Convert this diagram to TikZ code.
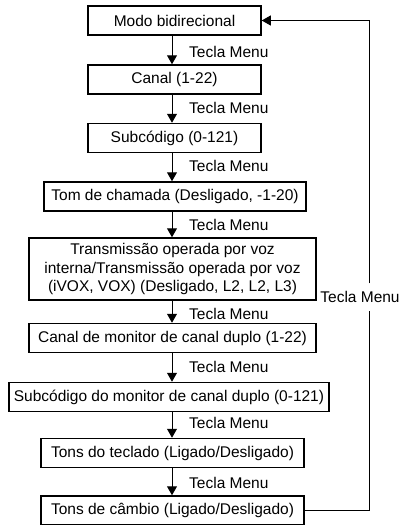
\documentclass[tikz,border=0pt]{standalone}
\usepackage{fontspec}
\setmainfont{Liberation Sans}
\usetikzlibrary{arrows.meta}

\begin{document}
\begin{tikzpicture}[x=1pt, y=-1pt,
  box/.style={rectangle, draw, line width=1.5pt, minimum height=29pt, inner sep=2pt, align=center, font=\fontsize{15.5}{18.3}\selectfont},
  lbl/.style={inner sep=1pt, font=\fontsize{15.5}{18.3}\selectfont},
  arrow/.style={-{Triangle[length=9pt,width=10pt]}, line width=1pt}
]
\useasboundingbox (0,0) rectangle (403,525);
\coordinate (ax) at (172,0);
\coordinate (rt) at (369,0);

\node[box, minimum width=173pt] (b1) at (174.5,20.5) {Modo bidirecional};
\node[box, minimum width=173pt] (b2) at (174.5,79.5) {Canal (1-22)};
\node[box, minimum width=173pt] (b3) at (174.5,138) {Subcódigo (0-121)};
\node[box, minimum width=262pt] (b4) at (175,196.5) {Tom de chamada (Desligado, -1-20)};
\node[box, minimum width=287pt, minimum height=62pt] (b5) at (172.5,269) {Transmissão operada por voz\\interna/Transmissão operada por voz\\(iVOX, VOX) (Desligado, L2, L2, L3)};
\node[box, minimum width=287pt] (b6) at (172.5,338) {Canal de monitor de canal duplo (1-22)};
\node[box, minimum width=320pt] (b7) at (169,397) {Subcódigo do monitor de canal duplo (0-121)};
\node[box, minimum width=263pt] (b8) at (172.5,453) {Tons do teclado (Ligado/Desligado)};
\node[box, minimum width=263pt] (b9) at (172.5,510.5) {Tons de câmbio (Ligado/Desligado)};

% Tecla Menu labels
\node[lbl, anchor=west] (l1) at (188,52) {Tecla Menu};
\node[lbl, anchor=west] (l2) at (188,108) {Tecla Menu};
\node[lbl, anchor=west] (l3) at (188,166) {Tecla Menu};
\node[lbl, anchor=west] (l4) at (188,225) {Tecla Menu};
\node[lbl, anchor=west] (l5) at (188,314) {Tecla Menu};
\node[lbl, anchor=west] (l6) at (188,367) {Tecla Menu};
\node[lbl, anchor=west] (l7) at (188,423) {Tecla Menu};
\node[lbl, anchor=west] (l8) at (188,483) {Tecla Menu};
\node[lbl, minimum height=27pt] (lr) at (360,297) {Tecla Menu};

\draw[arrow] (b1.south -| ax) -- (b2.north -| ax);
\draw[arrow] (b2.south -| ax) -- (b3.north -| ax);
\draw[arrow] (b3.south -| ax) -- (b4.north -| ax);
\draw[arrow] (b4.south -| ax) -- (b5.north -| ax);
\draw[arrow] (b5.south -| ax) -- (b6.north -| ax);
\draw[arrow] (b6.south -| ax) -- (b7.north -| ax);
\draw[arrow] (b7.south -| ax) -- (b8.north -| ax);
\draw[arrow] (b8.south -| ax) -- (b9.north -| ax);

% loop back
\draw[line width=1pt] (b9.east) -- (b9.east -| rt) -- (lr.south -| rt);
\draw[arrow] (lr.north -| rt) |- (b1.east);
\end{tikzpicture}
\end{document}
